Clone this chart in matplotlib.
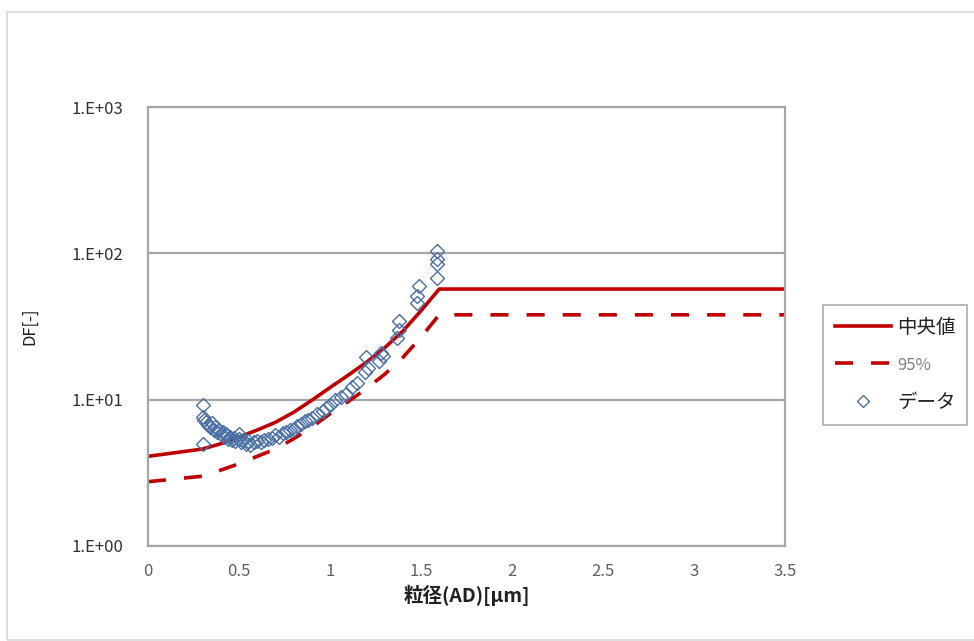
import math

import matplotlib
matplotlib.use("Agg")
import matplotlib.pyplot as plt
from matplotlib.patches import Rectangle
from matplotlib.ticker import FixedLocator, FuncFormatter

plt.rcParams["font.family"] = ["Noto Sans CJK JP", "DejaVu Sans"]

# median / 95% design curves
curve_x = [0.0, 0.3, 0.4, 0.5, 0.6, 0.7, 0.8, 0.9, 1.0, 1.1, 1.2, 1.3, 1.4, 1.5, 1.6, 3.5]
median_df = [4.1, 4.6, 5.0, 5.55, 6.2, 7.0, 8.2, 9.9, 12.1, 14.7, 18.0, 22.6, 29.4, 40.5, 57.0, 57.0]
p95_df = [2.75, 3.0, 3.3, 3.65, 4.1, 4.6, 5.4, 6.5, 8.0, 9.7, 11.9, 14.9, 19.4, 26.7, 38.0, 38.0]

# measured data
data_x = [0.30, 0.30, 0.30, 0.31, 0.32, 0.33, 0.34, 0.35, 0.36, 0.37, 0.38, 0.39,
          0.40, 0.41, 0.42, 0.43, 0.44, 0.45, 0.46, 0.47, 0.48, 0.50, 0.50, 0.51,
          0.52, 0.54, 0.55, 0.56, 0.58, 0.60, 0.62, 0.64, 0.66, 0.68, 0.70, 0.72,
          0.74, 0.76, 0.78, 0.80, 0.82, 0.84, 0.86, 0.88, 0.90, 0.93, 0.96, 0.98,
          1.00, 1.03, 1.06, 1.09, 1.12, 1.15, 1.19, 1.20, 1.21, 1.27, 1.28, 1.29,
          1.37, 1.38, 1.38, 1.48, 1.48, 1.49, 1.59, 1.59, 1.59, 1.59]
data_df = [9.2, 7.6, 5.0, 7.3, 7.0, 6.7, 6.5, 6.9, 6.2, 6.5, 6.0, 6.2,
           5.8, 6.0, 5.6, 5.8, 5.4, 5.6, 5.3, 5.5, 5.2, 5.4, 5.8, 5.1,
           5.3, 5.0, 5.2, 4.9, 5.1, 5.2, 5.1, 5.3, 5.4, 5.5, 5.7, 5.6,
           5.9, 6.0, 6.2, 6.3, 6.6, 6.8, 7.1, 7.3, 7.5, 8.0, 8.4, 8.8,
           9.2, 9.9, 10.4, 11.0, 12.2, 13.0, 15.5, 19.5, 16.5, 18.5, 21.0, 20.0,
           26.5, 30.0, 34.5, 46.0, 51.0, 60.0, 67.5, 84.0, 92.0, 103.0]

red = "#C00000"
blue = "#4A6FA5"

fig = plt.figure(figsize=(9.74, 6.41), dpi=100)
fig.patches.append(Rectangle((7 / 974, 1 / 641), 1.0, 628 / 641, transform=fig.transFigure,
                             fill=False, edgecolor="#D9D9D9", linewidth=1.2))
ax = fig.add_axes([148 / 974, 1 - 546 / 641, 637 / 974, 439 / 641])

ax.plot(curve_x, median_df, color=red, linewidth=2.6, label="中央値")
ax.plot(curve_x, p95_df, color=red, linewidth=2.6, dashes=(5, 5), label="95%")
ax.plot(data_x, data_df, linestyle="none", marker="D", markersize=7.5,
        markerfacecolor="none", markeredgecolor=blue, markeredgewidth=1.0, label="データ")

ax.set_yscale("log")
ax.set_xlim(0, 3.5)
ax.set_ylim(1, 1000)
ax.xaxis.set_major_locator(FixedLocator([0, 0.5, 1, 1.5, 2, 2.5, 3, 3.5]))
ax.xaxis.set_major_formatter(FuncFormatter(lambda v, p: f"{v:g}"))
ax.yaxis.set_major_locator(FixedLocator([1, 10, 100, 1000]))
ax.yaxis.set_minor_locator(FixedLocator([]))
ax.yaxis.set_major_formatter(FuncFormatter(lambda v, p: f"1.E+{int(round(math.log10(v))):02d}"))
ax.tick_params(axis="both", length=0, labelsize=12)
ax.tick_params(axis="y", pad=18, labelcolor="#303030")
ax.tick_params(axis="x", pad=12, labelcolor="#606060")
ax.grid(axis="y", color="#A6A6A6", linewidth=1.6)
for s in ax.spines.values():
    s.set_color("#A6A6A6")
    s.set_linewidth(1.6)

ax.set_xlabel("粒径(AD)[µm]", fontsize=14, fontweight="bold", color="#202020", labelpad=4)
ax.set_ylabel("DF[-]", fontsize=12, color="#202020", labelpad=24)

leg = fig.legend(loc="upper left", bbox_to_anchor=(823 / 974, 1 - 305 / 641),
                 frameon=True, fancybox=False, edgecolor="#A6A6A6", fontsize=14,
                 handlelength=2.9, borderpad=0.6, labelspacing=0.95, handletextpad=0.3,
                 borderaxespad=0, markerscale=0.75)
leg.get_frame().set_linewidth(1.4)
for t in leg.get_texts():
    t.set_color("#202020")
leg.get_texts()[1].set_color("#808080")
leg.get_texts()[1].set_fontsize(12)

fig.savefig("out.png", dpi=100)
